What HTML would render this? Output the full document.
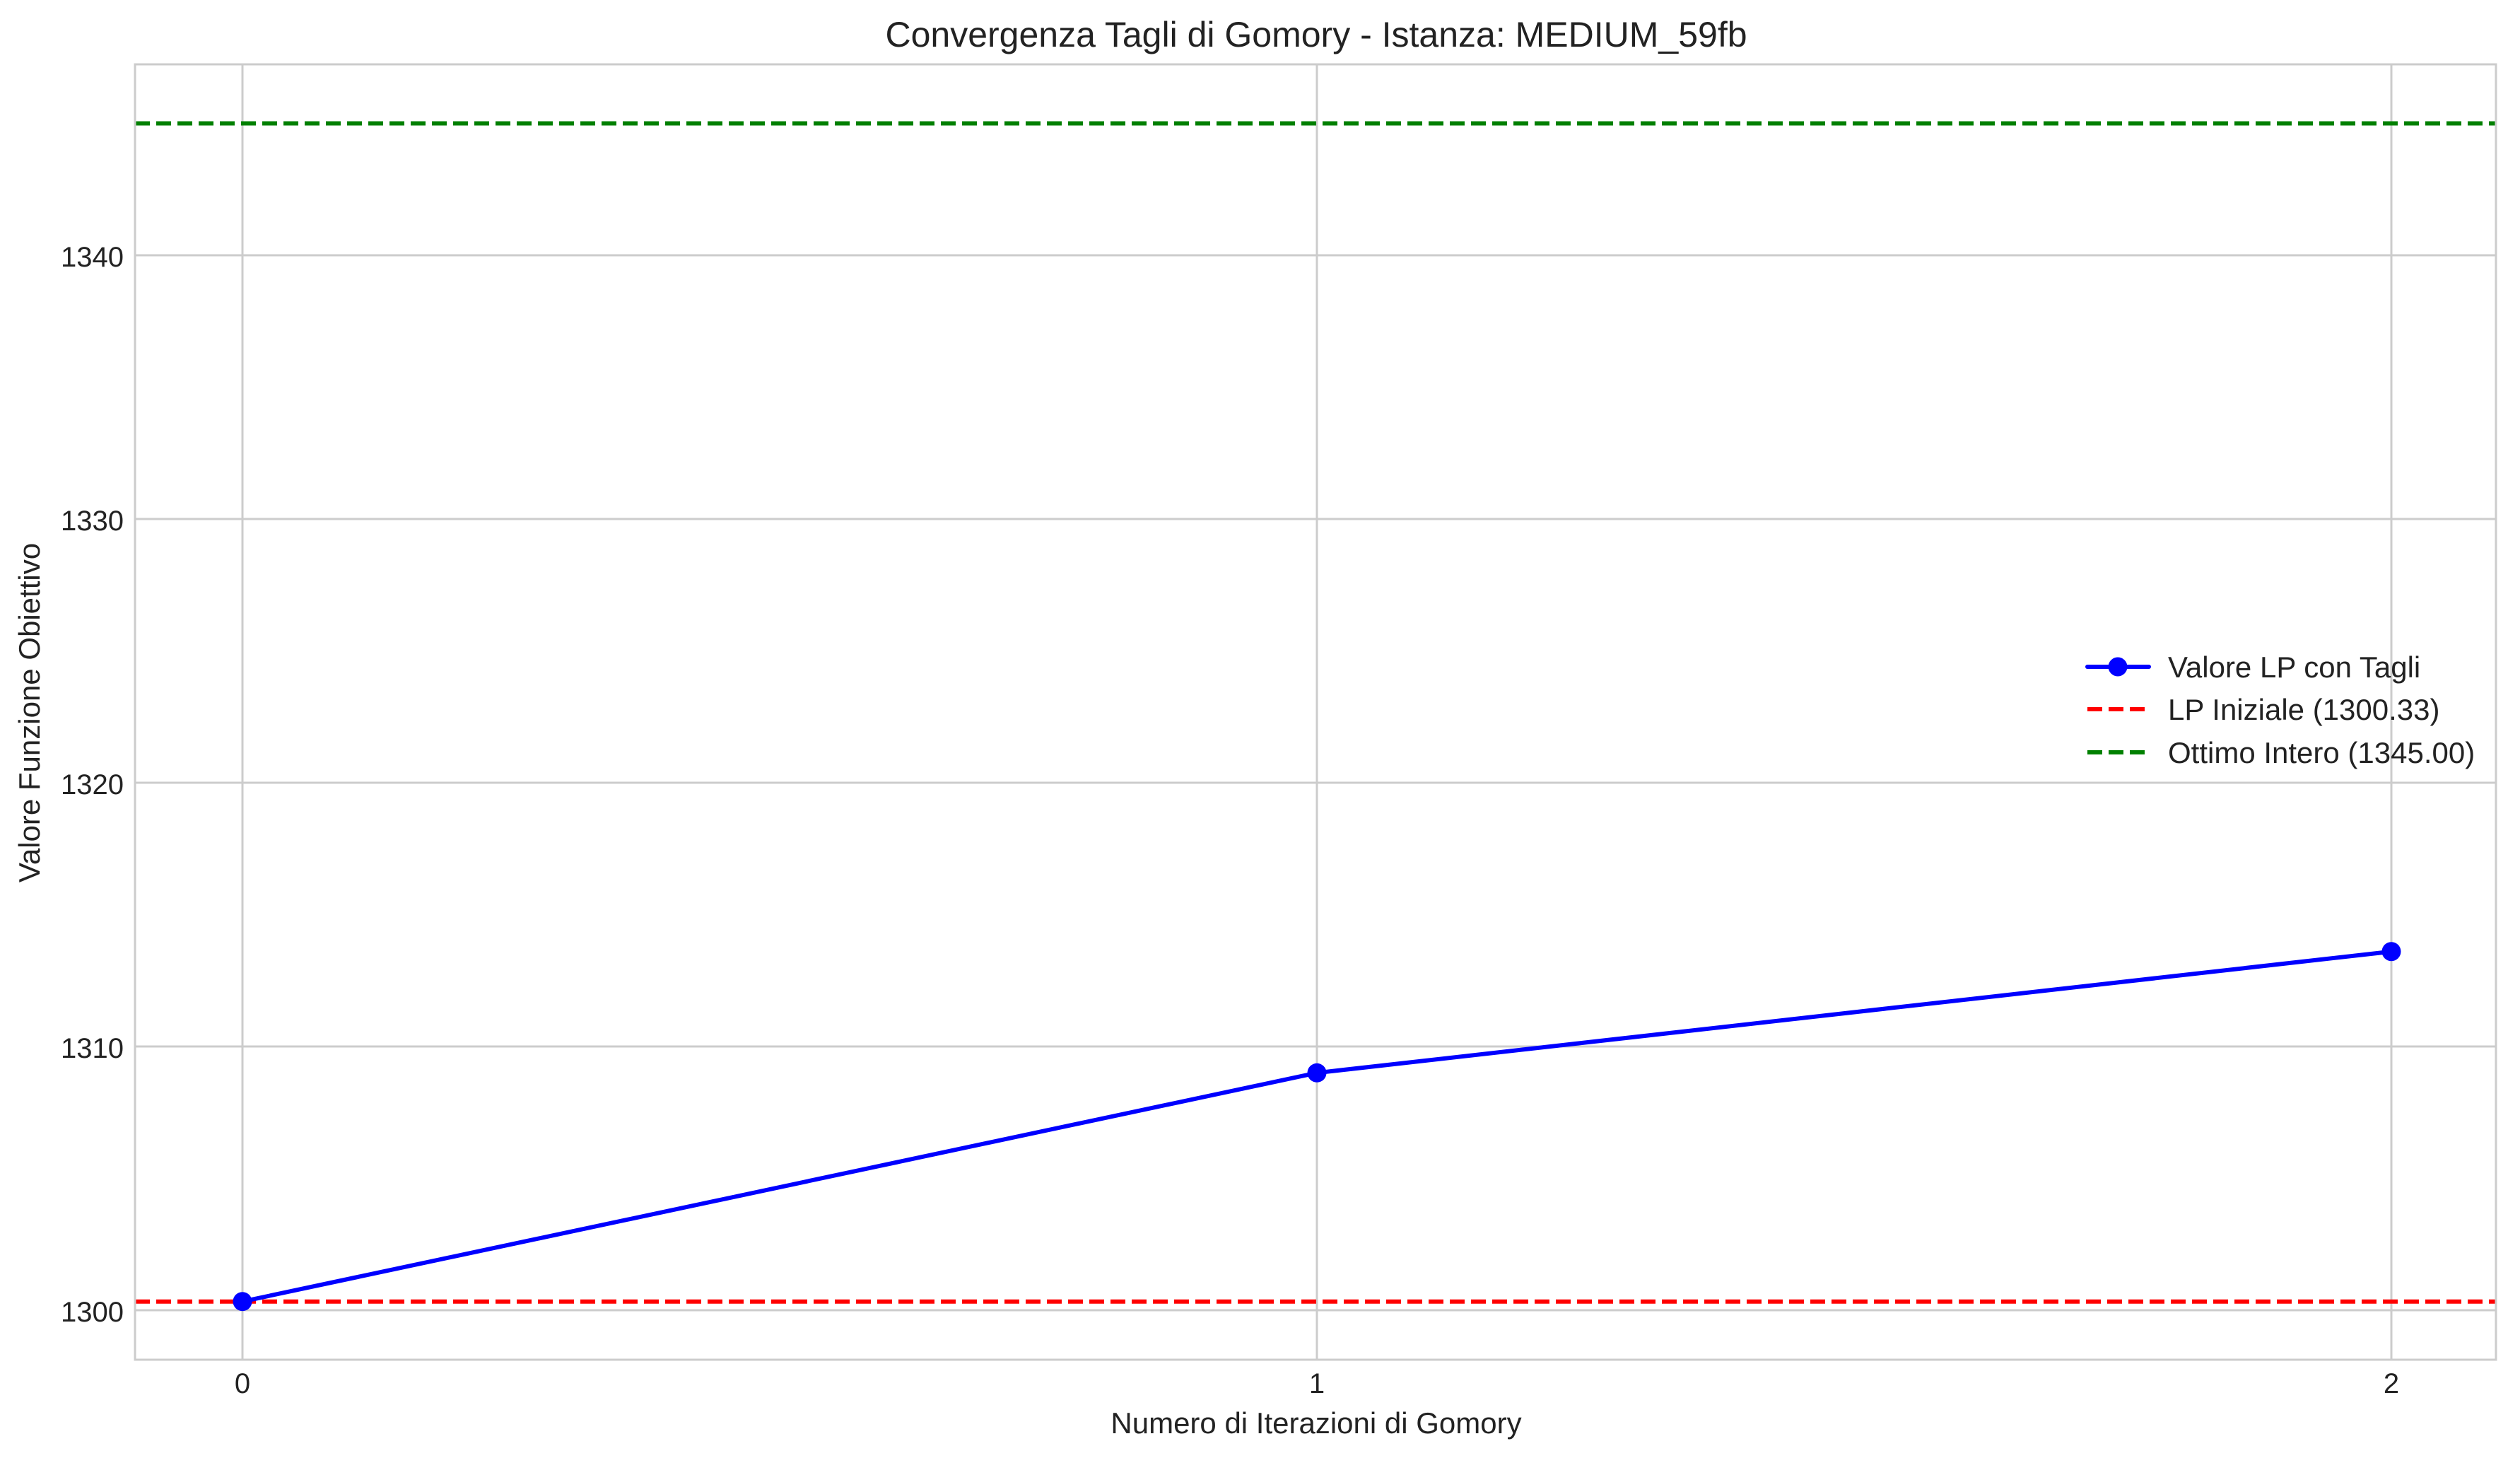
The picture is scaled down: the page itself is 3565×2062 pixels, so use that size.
<!DOCTYPE html>
<html><head><meta charset="utf-8"><style>
html,body{margin:0;padding:0;background:#fff;}
svg{display:block;font-family:"Liberation Sans",Arial,sans-serif;}
</style></head><body>
<svg id="chart" width="3565" height="2062" viewBox="0 0 3565 2062" xmlns="http://www.w3.org/2000/svg">
<rect width="3565" height="2062" fill="#fff"/>
<g id="grid"></g>
<g id="lines"></g>
<rect x="191" y="91" width="3340" height="1832" fill="none" stroke="#cccccc" stroke-width="3"/>
<g id="ticks"></g>
<text x="1862" y="66" font-size="50" text-anchor="middle" fill="#222">Convergenza Tagli di Gomory - Istanza: MEDIUM_59fb</text>
<text x="1862" y="2027" font-size="42" text-anchor="middle" fill="#222">Numero di Iterazioni di Gomory</text>
<text x="0" y="0" font-size="42" text-anchor="middle" fill="#222" transform="translate(56,1008) rotate(-90)">Valore Funzione Obiettivo</text>
<g id="legend">
  <g>
    <line x1="2953" y1="943" x2="3040" y2="943" stroke="#0000ff" stroke-width="6" stroke-linecap="round"/>
    <circle cx="2996" cy="943" r="13.5" fill="#0000ff"/>
    <text x="3067" y="958" font-size="42" fill="#222">Valore LP con Tagli</text>
  </g>
  <g>
    <line x1="2953" y1="1003" x2="3040" y2="1003" stroke="#ff0000" stroke-width="6" stroke-dasharray="21,9"/>
    <text x="3067" y="1018" font-size="42" fill="#222">LP Iniziale (1300.33)</text>
  </g>
  <g>
    <line x1="2953" y1="1064" x2="3040" y2="1064" stroke="#008000" stroke-width="6" stroke-dasharray="21,9"/>
    <text x="3067" y="1079" font-size="42" fill="#222">Ottimo Intero (1345.00)</text>
  </g>
</g>
</svg>
<script>
const iterations = [0, 1, 2];
const lpValues = [1300.33, 1309.0, 1313.6];
const lpInitial = 1300.33;
const intOptimum = 1345.00;
const yTicks = [1300, 1310, 1320, 1330, 1340];
const xTicks = [0, 1, 2];

const NS = 'http://www.w3.org/2000/svg';
const L = 191, R = 3531, T = 91, B = 1923;
const X0 = 343, X2 = 3383;
function sx(v){ return X0 + v * (X2 - X0) / 2; }
function sy(v){ return 1853 - (v - 1300) * 37.3; }
function mk(tag, attrs, parent){ const e = document.createElementNS(NS, tag); for (const k in attrs) e.setAttribute(k, attrs[k]); parent.appendChild(e); return e; }

const grid = document.getElementById('grid');
const ticks = document.getElementById('ticks');
yTicks.forEach(t => {
  const y = sy(t);
  const g = mk('line', {x1: L, x2: R, y1: y, y2: y, stroke: '#cccccc', 'stroke-width': 3}, grid);
  
  
  const tx = mk('text', {x: 175, y: y + 16, 'font-size': 40, 'text-anchor': 'end', fill: '#222'}, ticks);
  tx.textContent = t;
  
  
});
xTicks.forEach(t => {
  const x = sx(t);
  const g = mk('line', {x1: x, x2: x, y1: T, y2: B, stroke: '#cccccc', 'stroke-width': 3}, grid);
  
  
  const tx = mk('text', {x: x, y: 1970, 'font-size': 40, 'text-anchor': 'middle', fill: '#222'}, ticks);
  tx.textContent = t;
  
  
});

const lines = document.getElementById('lines');
const red = mk('line', {x1: L, x2: R, y1: sy(lpInitial), y2: sy(lpInitial), stroke: '#ff0000', 'stroke-width': 6, 'stroke-dasharray': '21,9'}, lines);


const green = mk('line', {x1: L, x2: R, y1: sy(intOptimum), y2: sy(intOptimum), stroke: '#008000', 'stroke-width': 6, 'stroke-dasharray': '21,9'}, lines);


const pts = iterations.map((it, i) => sx(it) + ',' + sy(lpValues[i])).join(' ');
const pl = mk('polyline', {points: pts, fill: 'none', stroke: '#0000ff', 'stroke-width': 6, 'stroke-linejoin': 'round', 'stroke-linecap': 'round'}, lines);


iterations.forEach((it, i) => {
  const c = mk('circle', {cx: sx(it), cy: sy(lpValues[i]), r: 13.5, fill: '#0000ff'}, lines);
  
  
});
</script>
</body></html>
